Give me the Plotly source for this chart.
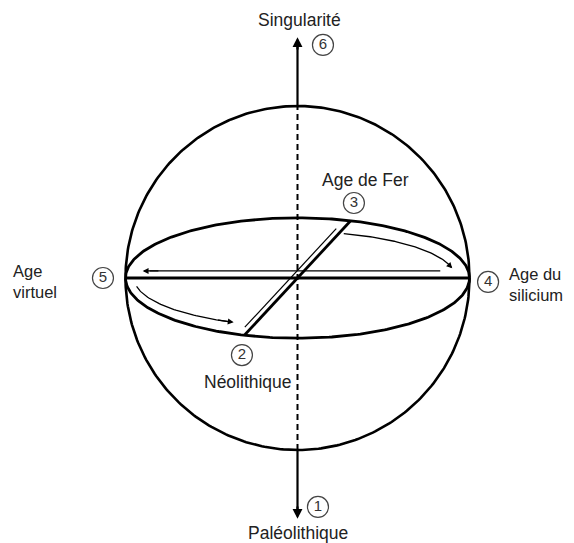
import numpy as np
import plotly.graph_objects as go

# ---- data ----
node_ids = [1, 2, 3, 4, 5, 6]
node_names = ["Paléolithique", "Néolithique", "Age de Fer", "Age du<br>silicium",
              "Age<br>virtuel", "Singularité"]
# angle (deg) of each node on the equator ellipse; None = pole
node_angles = [None, 252, 72, 0, 180, None]
equator_ratio = 0.35          # minor / major axis of the equator ellipse
pole_arrow_len = 1.40         # length of the vertical axis arrows

# ---- geometry (units: sphere radius = 1) ----
S = 172.0
OFF = 8                      # default page body margin
cx_px, cy_px = 297.5 - OFF, 278.0 - OFF
W, H = 574 - OFF, 543 - OFF
xr = [-cx_px / S, (W - cx_px) / S]
yr = [-(H - cy_px) / S, cy_px / S]

fig = go.Figure()
BLACK = "#000000"

def line(x, y, w=2.6, color=BLACK, dash="solid"):
    fig.add_trace(go.Scatter(x=x, y=y, mode="lines", hoverinfo="skip",
                             line=dict(color=color, width=w, dash=dash),
                             showlegend=False))

def arrow(x0, y0, x1, y1, w=1.4, size=1.0, head=2, color=BLACK):
    fig.add_annotation(x=x1, y=y1, ax=x0, ay=y0, xref="x", yref="y",
                       axref="x", ayref="y", text="", showarrow=True,
                       arrowhead=head, arrowsize=size, arrowwidth=w,
                       arrowcolor=color)

t = np.linspace(0, 2 * np.pi, 400)
# sphere
line(np.cos(t), np.sin(t), w=2.6)
# equator
line(np.cos(t), equator_ratio * np.sin(t), w=2.8)

def eq_pt(deg):
    a = np.radians(deg)
    return np.cos(a), equator_ratio * np.sin(a)

# horizontal diameter 5-4 (thick)
p4, p5 = eq_pt(node_angles[3]), eq_pt(node_angles[4])
line([p5[0], p4[0]], [p5[1], p4[1]], w=2.8)
# diagonal 2-3 (thick)
p2, p3 = eq_pt(node_angles[1]), eq_pt(node_angles[2])
line([p2[0], p3[0]], [p2[1], p3[1]], w=2.8)

# vertical axis: dashed inside, solid arrows outside
line([0, 0], [-1, 1], w=2.0, dash="6px,4px")
line([0, 0], [1, pole_arrow_len - 0.04], w=2.2)
line([0, 0], [-1, -pole_arrow_len + 0.04], w=2.2)
arrow(0, pole_arrow_len - 0.08, 0, pole_arrow_len, w=2.2, size=0.9)
arrow(0, -pole_arrow_len + 0.08, 0, -pole_arrow_len, w=2.2, size=0.9)

# thin path arrows: 5 -> 2 (lower arc), 2 -> 3 (parallel), 3 -> 4 (upper arc), 4 -> 5
ta = np.radians(np.linspace(190, 247, 60))
ax_, ay_ = 0.95 * np.cos(ta), 0.28 * np.sin(ta)
line(ax_[:-2], ay_[:-2], w=1.3)
arrow(ax_[-8], ay_[-8], ax_[-1], ay_[-1], w=1.3, size=0.9)

dx, dy = p3[0] - p2[0], p3[1] - p2[1]
L = np.hypot(dx, dy)
nx, ny = -dy / L * 0.03, dx / L * 0.03
line([p2[0] + nx + dx * 0.04, p3[0] + nx - dx * 0.1],
     [p2[1] + ny + dy * 0.04, p3[1] + ny - dy * 0.1], w=1.2)

tb = np.radians(np.linspace(73, 12, 60))
bx_, by_ = 0.92 * np.cos(tb), 0.27 * np.sin(tb)
line(bx_[:-2], by_[:-2], w=1.3)
arrow(bx_[-8], by_[-8], bx_[-1], by_[-1], w=1.3, size=0.9)

hy = 0.041
line([0.83, -0.86], [hy, hy], w=1.3)
arrow(-0.80, hy, -0.90, hy, w=1.3, size=0.9)

# ---- labels ----
circle_pos = {1: (0.119, -1.331), 2: (-0.323, -0.448), 3: (0.328, 0.436),
              4: (1.108, -0.023), 5: (-1.131, 0.0), 6: (0.148, 1.355)}
label_pos = {1: (0.003, -1.482, "center"), 2: (-0.288, -0.605, "center"),
             3: (0.398, 0.57, "center"), 4: (1.225, -0.04, "left"),
             5: (-1.66, -0.023, "left"), 6: (0.009, 1.50, "center")}

cx = [circle_pos[i][0] for i in node_ids]
cy = [circle_pos[i][1] for i in node_ids]
fig.add_trace(go.Scatter(x=cx, y=cy, mode="markers+text",
                         text=[str(i) for i in node_ids],
                         textposition="middle center",
                         textfont=dict(family="Liberation Sans", size=15, color="#333"),
                         marker=dict(symbol="circle", size=21, color="white",
                                     line=dict(color="#444", width=1.2)),
                         hoverinfo="skip", showlegend=False))

for i, name in zip(node_ids, node_names):
    x, y, al = label_pos[i]
    multi = "<br>" in name
    fig.add_annotation(x=x, y=y, xref="x", yref="y", text=name, showarrow=False,
                       xanchor=al, yanchor="middle", align="left" if multi else "center",
                       borderpad=0,
                       font=dict(family="Liberation Sans", size=16.5 if multi else 17.5,
                                 color="#222"))

fig.update_layout(width=W, height=H, margin=dict(l=0, r=0, t=0, b=0),
                  paper_bgcolor="white", plot_bgcolor="white",
                  xaxis=dict(range=xr, visible=False, fixedrange=True),
                  yaxis=dict(range=yr, visible=False, fixedrange=True))
fig.write_html("out.html")
